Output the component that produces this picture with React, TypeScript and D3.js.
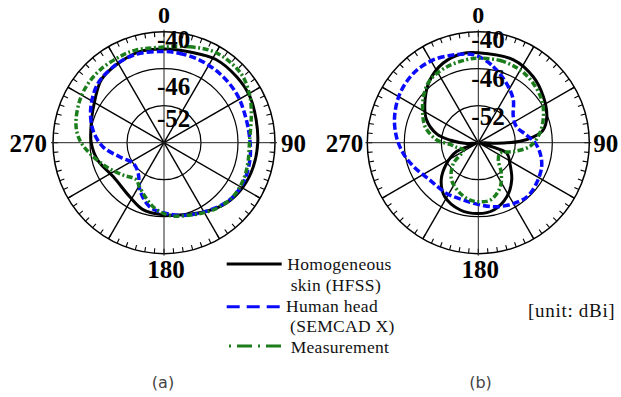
import React from 'react';
import * as d3 from 'd3';

// ---- axis definitions ----
const R_MIN = -58;
const R_MAX = -40;
const ringValues = [-52, -46, -40];
const ringLabels = ['-52', '-46', '-40'];
const spokeAngles = [30, 60, 120, 150, 210, 240, 300, 330];
const axisAngles = [0, 90, 180, 270];
const angleLabels = ['0', '90', '180', '270'];
const legendLabels = [['Homogeneous', 'skin (HFSS)'], ['Human head', '(SEMCAD X)'], ['Measurement']];
const unitLabel = '[unit: dBi]';
const panelLabels = ['(a)', '(b)'];

// ---- (a) data: angle (deg) / gain (dBi) ----
const aBlackAngles = [0, 16, 32, 48, 62, 76, 90, 105, 119, 134, 148, 168, 181, 197, 212, 236, 255, 270, 287, 302, 315, 328, 345];
const aBlackValues = [-42.8, -42.7, -42.1, -42.1, -42.2, -42.6, -42.8, -43.0, -43.3, -43.9, -44.9, -46.0, -46.3, -46.6, -47.6, -48.1, -46.9, -46.2, -45.7, -44.8, -43.6, -43.2, -42.7];

const aBlueAngles = [0, 10, 23, 39, 56, 70, 86, 101, 117, 131, 146, 163, 178, 193, 207, 220, 236, 252, 266, 280, 296, 312, 326, 336, 345];
const aBlueValues = [-43.2, -43.3, -43.4, -43.6, -43.8, -44.1, -44.1, -43.8, -43.6, -43.9, -44.8, -45.7, -46.5, -47.4, -49.4, -51.5, -52.0, -50.5, -48.1, -46.3, -44.8, -43.6, -43.2, -43.0, -43.0];

const aGreenAngles = [0, 15, 28, 39, 50, 62, 73, 88, 104, 115, 128, 142, 158, 176, 190, 209, 217, 232, 247, 262, 272, 282, 297, 308, 319, 333, 343];
const aGreenValues = [-42.5, -41.9, -41.2, -41.1, -41.3, -42.2, -43.2, -44.1, -44.0, -43.8, -43.8, -44.4, -45.4, -46.2, -47.5, -49.8, -50.5, -49.5, -47.9, -45.8, -44.3, -43.4, -42.7, -42.4, -42.3, -42.3, -42.3];

// ---- (b) data ----
const bBlackAngles = [0, 23, 40, 55, 69, 79, 84, 88, 92, 95, 110, 123, 138, 152, 167, 180, 195, 212, 225, 237, 248, 258, 266, 275, 282, 294, 309, 322, 336, 350];
const bBlackValues = [-43.4, -43.4, -44.1, -45.1, -46.1, -47.3, -49.0, -51.2, -55.0, -57.5, -53.1, -51.9, -49.9, -48.1, -46.8, -46.5, -46.7, -47.7, -49.5, -51.9, -54.2, -57.5, -56.1, -53.5, -51.1, -48.8, -46.9, -45.2, -43.9, -43.3];

const bBlueAngles = [1, 11, 25, 39, 53, 67, 81, 90, 100, 111, 125, 138, 150, 164, 178, 195, 212, 232, 250, 262, 274, 287, 302, 317, 331, 344, 355];
const bBlueValues = [-44.1, -45.4, -47.3, -49.0, -50.9, -51.3, -50.1, -48.8, -47.8, -47.0, -46.5, -46.2, -46.6, -47.2, -47.9, -48.4, -48.3, -48.1, -46.8, -45.7, -44.7, -43.8, -43.0, -42.6, -42.7, -43.2, -43.6];

const bGreenAngles = [0, 15, 30, 43, 56, 68, 81, 94, 104, 116, 131, 143, 155, 168, 178, 188, 200, 216, 230, 244, 258, 266, 274, 286, 295, 310, 322, 337, 352];
const bGreenValues = [-44.3, -44.2, -44.4, -44.9, -45.6, -46.6, -47.9, -49.6, -52.1, -54.1, -53.7, -51.8, -49.8, -48.5, -48.4, -48.6, -49.3, -50.6, -52.7, -55.3, -54.4, -53.5, -51.2, -49.1, -48.1, -46.4, -45.2, -44.7, -44.4];

const COLORS = { black: '#000000', blue: '#0a0aff', green: '#1c7d1c' };
const SERIF = '"Liberation Serif", "Times New Roman", serif';

const R = 111;
const rScale = d3.scaleLinear().domain([R_MIN, R_MAX]).range([0, R]).clamp(true);
const toRad = (d: number) => (d * Math.PI) / 180;

type Series = { angles: number[]; values: number[]; color: string; width: number; dash?: string };

function seriesPath(s: Series) {
  const pts: [number, number][] = s.angles.map((a, i) => [toRad(a), rScale(s.values[i])]);
  const gen = d3.lineRadial<[number, number]>()
    .angle((d) => d[0])
    .radius((d) => d[1])
    .curve(d3.curveCatmullRomClosed.alpha(0.5));
  return gen(pts) || '';
}

function Polar({ cx, cy, series, labelY, rightLabelGap, leftLabelGap }:
  { cx: number; cy: number; series: Series[]; labelY: number[]; rightLabelGap: number; leftLabelGap: number }) {
  const ticks = d3.range(0, 360, 5);
  const pt = (deg: number, r: number) => [r * Math.sin(toRad(deg)), -r * Math.cos(toRad(deg))];
  return (
    <g transform={`translate(${cx},${cy})`}>
      {ringValues.map((v) => (
        <circle key={v} r={rScale(v)} fill="none" stroke="#000" strokeWidth={v === R_MAX ? 1.5 : 1.2} />
      ))}
      {ticks.map((t) => {
        const [x1, y1] = pt(t, R);
        const [x2, y2] = pt(t, R - 5);
        return <line key={t} x1={x1} y1={y1} x2={x2} y2={y2} stroke="#000" strokeWidth={1.1} />;
      })}
      {spokeAngles.map((a) => {
        const [x2, y2] = pt(a, R);
        return <line key={a} x1={0} y1={0} x2={x2} y2={y2} stroke="#000" strokeWidth={1.4} />;
      })}
      {axisAngles.map((a) => {
        const [x2, y2] = pt(a, R + 2);
        return <line key={a} x1={0} y1={0} x2={x2} y2={y2} stroke="#222" strokeWidth={1} />;
      })}
      {series.map((s, i) => (
        <path key={i} d={seriesPath(s)} fill="none" stroke={s.color} strokeWidth={s.width}
          strokeDasharray={s.dash} strokeLinejoin="round" />
      ))}
      {ringLabels.map((l, i) => (
        <text key={l} x={-7} y={labelY[i]} fontFamily={SERIF} fontWeight="bold" fontSize={25} fill="#000">{l}</text>
      ))}
      <text x={0} y={-120} textAnchor="middle" fontFamily={SERIF} fontWeight="bold" fontSize={24}>{angleLabels[0]}</text>
      <text x={rightLabelGap} y={9} textAnchor="start" fontFamily={SERIF} fontWeight="bold" fontSize={25}>{angleLabels[1]}</text>
      <text x={2} y={135} textAnchor="middle" fontFamily={SERIF} fontWeight="bold" fontSize={25}>{angleLabels[2]}</text>
      <text x={-leftLabelGap} y={9} textAnchor="end" fontFamily={SERIF} fontWeight="bold" fontSize={25}>{angleLabels[3]}</text>
    </g>
  );
}

export default function App() {
  const seriesA: Series[] = [
    { angles: aBlackAngles, values: aBlackValues, color: COLORS.black, width: 3 },
    { angles: aBlueAngles, values: aBlueValues, color: COLORS.blue, width: 3.5, dash: '7,3' },
    { angles: aGreenAngles, values: aGreenValues, color: COLORS.green, width: 3.5, dash: '6,2.5,2,2.5' },
  ];
  const seriesB: Series[] = [
    { angles: bBlackAngles, values: bBlackValues, color: COLORS.black, width: 3 },
    { angles: bBlueAngles, values: bBlueValues, color: COLORS.blue, width: 3.5, dash: '7,3' },
    { angles: bGreenAngles, values: bGreenValues, color: COLORS.green, width: 3.5, dash: '6,2.5,2,2.5' },
  ];
  const legendFont = { fontFamily: SERIF, fontSize: 17.5, fill: '#111' };
  return (
    <div style={{ position: 'absolute', left: 0, top: 0 }}>
      <svg width={621} height={397} style={{ display: 'block', background: '#fff' }}>
        <Polar cx={164} cy={142.7} series={seriesA} labelY={[-16, -47.5, -95]} rightLabelGap={117} leftLabelGap={117} />
        <Polar cx={478.3} cy={142.7} series={seriesB} labelY={[-17.5, -55.5, -94.5]} rightLabelGap={115} leftLabelGap={115} />

        {/* legend */}
        <line x1={226.7} x2={281.7} y1={264} y2={264} stroke={COLORS.black} strokeWidth={3} />
        <line x1={226.7} x2={281} y1={306.7} y2={306.7} stroke={COLORS.blue} strokeWidth={3} strokeDasharray="13,7" />
        <line x1={229} x2={283} y1={346} y2={346} stroke={COLORS.green} strokeWidth={3} strokeDasharray="2,6,15,6" />
        <text x={287.3} y={269.5} {...legendFont} letterSpacing={0.3}>{legendLabels[0][0]}</text>
        <text x={290.7} y={290.5} {...legendFont} letterSpacing={0.3}>{legendLabels[0][1]}</text>
        <text x={286} y={311.5} {...legendFont} letterSpacing={0.3}>{legendLabels[1][0]}</text>
        <text x={290} y={332} {...legendFont} letterSpacing={0.3}>{legendLabels[1][1]}</text>
        <text x={290.7} y={352.7} {...legendFont} letterSpacing={0.3}>{legendLabels[2][0]}</text>
        <text x={528} y={317.3} textAnchor="start" {...legendFont} fontSize={19} letterSpacing={0.7}>{unitLabel}</text>

        <text x={163} y={388} textAnchor="middle" fontFamily='"DejaVu Sans", sans-serif' fontSize={16} fill="#444">{panelLabels[0]}</text>
        <text x={480.5} y={388} textAnchor="middle" fontFamily='"DejaVu Sans", sans-serif' fontSize={16} fill="#444">{panelLabels[1]}</text>
      </svg>
    </div>
  );
}
